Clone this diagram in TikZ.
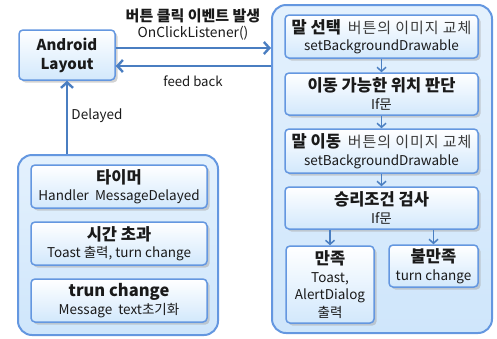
\documentclass[tikz,border=0pt]{standalone}
\usepackage{fontspec}
\setmainfont{Noto Sans CJK KR}
\newfontfamily\widekr[LetterSpace=6]{Noto Sans CJK KR}
\usetikzlibrary{arrows.meta,shadows}
\definecolor{bord}{HTML}{6497E0}
\definecolor{arr}{HTML}{4A7EC1}
\definecolor{lb}{HTML}{D2E8FC}
\definecolor{conttop}{HTML}{E4F1FD}
\definecolor{contbot}{HTML}{CFE6FB}
\definecolor{txt}{HTML}{1A1A1A}
\newcommand{\ttl}{\fontsize{16.5}{17.5}\selectfont\bfseries}
\newcommand{\sbt}{\fontsize{13.5}{17.5}\selectfont}
\newcommand{\sbk}{\widekr\fontsize{15}{17.5}\selectfont\color{txt!85}}
\begin{document}
\begin{tikzpicture}[x=1pt,y=-1pt,
  box/.style={draw=bord, line width=1.5pt, rounded corners=4pt, top color=white, bottom color=lb,
    align=center, inner sep=0pt, text=txt, font=\fontsize{13.5}{17.5}\selectfont,
    drop shadow={shadow xshift=2.5pt, shadow yshift=-2.5pt, fill=black!35, opacity=0.5}},
  container/.style={draw=bord, line width=2pt, rounded corners=14pt, top color=conttop, bottom color=contbot, inner sep=0pt},
  bigarrow/.style={draw=arr, line width=2.8pt, -{Straight Barb[length=5.5pt,width=12pt,line width=2.4pt]}},
  smallarrow/.style={draw=arr, line width=1.7pt, -{Straight Barb[length=4pt,width=9pt,line width=1.5pt]}},
  lbl/.style={text=txt, inner sep=0pt}
  ]
\useasboundingbox (0,0) rectangle (497,338);

% containers
\node[container, minimum width=220pt, minimum height=328pt] (rc) at (382,169) {};
\node[container, minimum width=200pt, minimum height=180pt] (lc) at (118,245) {};

% Android layout
\node[box, minimum width=96pt, minimum height=50pt, font=\fontsize{15}{19}\selectfont\bfseries] (android) at (67,55) {Android\\Layout};

% left boxes
\node[box, minimum width=176pt, minimum height=43pt] (l1) at (119,186.5) {{\ttl 타이머}\\{\sbt Handler\ \ MessageDelayed}};
\node[box, minimum width=176pt, minimum height=43pt] (l2) at (119,243.5) {{\ttl 시간 초과}\\{\sbt Toast 출력, turn change}};
\node[box, minimum width=176pt, minimum height=43pt] (l3) at (119,300.5) {{\ttl trun change}\\{\sbt Message\ \ text초기화}};

% right boxes
\node[box, minimum width=193pt, minimum height=43pt] (r1) at (381.5,36.5) {{\ttl 말 선택}\hspace{7pt}{\sbk 버튼의 이미지 교체}\\{\sbt setBackgroundDrawable}};
\node[box, minimum width=193pt, minimum height=42pt] (r2) at (381.5,94) {{\ttl 이동 가능한 위치 판단}\\{\sbt If문}};
\node[box, minimum width=193pt, minimum height=44pt] (r3) at (381.5,151) {{\ttl 말 이동}\hspace{7pt}{\sbk 버튼의 이미지 교체}\\{\sbt setBackgroundDrawable}};
\node[box, minimum width=193pt, minimum height=42pt] (r4) at (381.5,208) {{\ttl 승리조건 검사}\\{\sbt If문}};
\node[box, minimum width=88pt, minimum height=77pt] (win) at (330,284.5) {{\ttl 만족}\\{\sbt Toast,}\\{\sbt AlertDialog}\\{\sbt 출력}};
\node[box, minimum width=89pt, minimum height=42pt] (lose) at (433.5,266) {{\ttl 불만족}\\{\sbt turn change}};

% arrows
\draw[bigarrow] ([yshift=7pt]android.east) -- ([yshift=7pt]android.east -| rc.west);
\draw[bigarrow] ([yshift=-11pt]android.east -| rc.west) -- ([yshift=-11pt]android.east);
\draw[bigarrow] (android.south |- lc.north) -- (android.south);

\draw[smallarrow] (r1.south) -- (r2.north);
\draw[smallarrow] (r2.south) -- (r3.north);
\draw[smallarrow] (r3.south) -- (r4.north);
\draw[smallarrow] (r4.south -| win.north) -- (win.north);
\draw[smallarrow] (r4.south -| lose.north) -- (lose.north);

% labels
\node[lbl, font=\fontsize{15}{17}\selectfont\bfseries] (t1) at (193,16) {버튼 클릭 이벤트 발생};
\node[lbl, font=\fontsize{13.8}{16}\selectfont] (t2) at (193,33) {OnClickListener()};
\node[lbl, font=\fontsize{13.2}{16}\selectfont] (t3) at (193,81) {feed back};
\node[lbl, font=\fontsize{13.5}{16}\selectfont] (t4) at (97,116) {Delayed};
\end{tikzpicture}
\end{document}
